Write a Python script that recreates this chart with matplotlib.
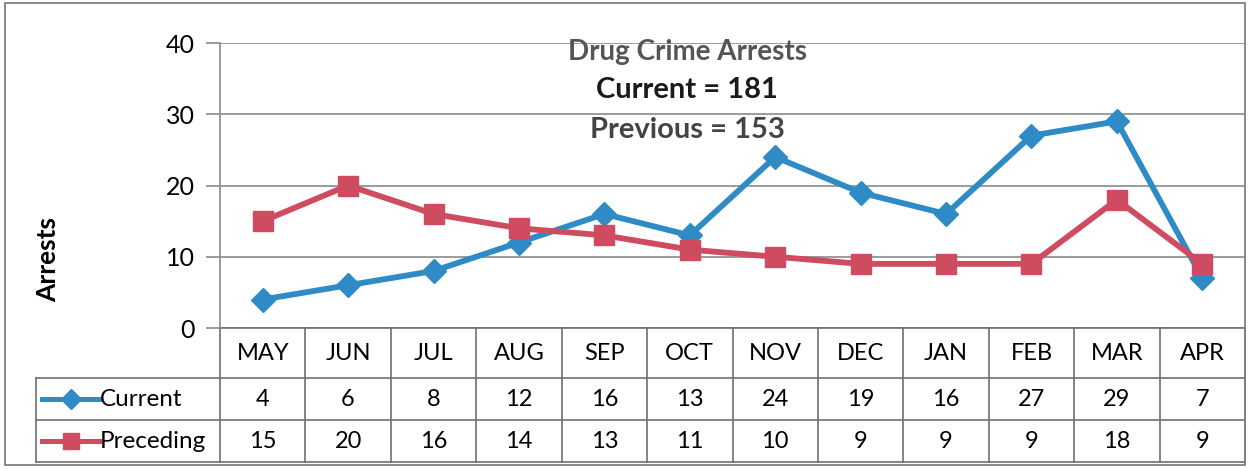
import matplotlib.pyplot as plt
import matplotlib.transforms as mtransforms
from matplotlib.patches import Rectangle

months = ['MAY', 'JUN', 'JUL', 'AUG', 'SEP', 'OCT', 'NOV', 'DEC', 'JAN', 'FEB', 'MAR', 'APR']
current = [4, 6, 8, 12, 16, 13, 24, 19, 16, 27, 29, 7]
preceding = [15, 20, 16, 14, 13, 11, 10, 9, 9, 9, 18, 9]
series_names = ['Current', 'Preceding']
yticks = [0, 10, 20, 30, 40]

blue = '#2f8bc6'
red = '#cf4b60'
grid_c = '#8a8a8a'

plt.rcParams['font.family'] = ['Lato', 'DejaVu Sans']

W, H = 1250, 469
fig = plt.figure(figsize=(W / 100, H / 100), dpi=100)
ax = fig.add_axes([220 / W, (H - 328) / H, 1025 / W, 285 / H])

x = list(range(len(months)))
ax.plot(x, current, color=blue, lw=4.2, marker='D', ms=12, mec=blue, zorder=3)
ax.plot(x, preceding, color=red, lw=4.2, marker='s', ms=14, mec=red, zorder=4)

ax.set_xlim(-0.5, len(months) - 0.5)
ax.set_ylim(0, 40)
ax.set_yticks(yticks)
ax.set_xticks([])
ax.yaxis.grid(True, color=grid_c, lw=1.2)
ax.set_axisbelow(True)
for s in ['top', 'right', 'bottom']:
    ax.spines[s].set_visible(False)
ax.spines['left'].set_color(grid_c)
ax.spines['left'].set_linewidth(1.2)
ax.tick_params(axis='y', length=10, width=1.2, color=grid_c, labelsize=18, pad=8)
ax.set_ylabel('Arrests', fontsize=19, fontweight='bold', labelpad=0)
ax.yaxis.set_label_coords(-160 / 1025, 69 / 285)

# title inside plot
ax.text(0.456, 0.97, 'Drug Crime Arrests', transform=ax.transAxes, ha='center', va='center',
        fontsize=20, fontweight='bold', color='#555555')
ax.text(0.456, 0.835, 'Current = %d' % sum(current), transform=ax.transAxes, ha='center',
        va='center', fontsize=21, fontweight='bold', color='#1a1a1a')
ax.text(0.456, 0.695, 'Previous = %d' % sum(preceding), transform=ax.transAxes, ha='center',
        va='center', fontsize=21, fontweight='bold', color='#444444')

# data table below the axes
trans = mtransforms.blended_transform_factory(ax.transData, ax.transAxes)
ph = 285.0
y_month = -50 / ph
y_cur = -92 / ph
y_pre = -134 / ph
unit = 1025 / 12
left_px = (36 - 220) / unit - 0.5
tc = '#707070'

def hline(x0, x1, y):
    ax.plot([x0, x1], [y, y], color=tc, lw=1.2, transform=trans, clip_on=False)

def vline(xv, y0, y1):
    ax.plot([xv, xv], [y0, y1], color=tc, lw=1.2, transform=trans, clip_on=False)

hline(-0.5, 11.5, 0)
hline(left_px, 11.5, y_month)
hline(left_px, 11.5, y_cur)
hline(left_px, 11.5, y_pre)
for i in range(len(months) + 1):
    vline(i - 0.5, 0, y_pre)
vline(left_px, y_month, y_pre)

fs = 17
for i, m in enumerate(months):
    ax.text(i, y_month / 2, m, transform=trans, ha='center', va='center', fontsize=fs)
    ax.text(i, (y_month + y_cur) / 2, str(current[i]), transform=trans, ha='center',
            va='center', fontsize=fs)
    ax.text(i, (y_cur + y_pre) / 2, str(preceding[i]), transform=trans, ha='center',
            va='center', fontsize=fs)

# legend keys in the row headers
for name, col, mk, ms, yc in [(series_names[0], blue, 'D', 10, (y_month + y_cur) / 2),
                              (series_names[1], red, 's', 12, (y_cur + y_pre) / 2)]:
    x0 = left_px + 6 / unit
    x1 = left_px + 63 / unit
    ax.plot([x0, x1], [yc, yc], color=col, lw=3.6, transform=trans, clip_on=False)
    ax.plot([(x0 + x1) / 2], [yc], color=col, marker=mk, ms=ms, transform=trans, clip_on=False)
    ax.text(x1 + 1 / unit, yc, name, transform=trans, ha='left', va='center', fontsize=17.5)

# outer chart border
fig.patches.append(Rectangle((5 / W, 4 / H), 1240 / W, 462 / H, transform=fig.transFigure,
                             fill=False, ec='#808080', lw=1.3))

fig.savefig('out.png', dpi=100)
